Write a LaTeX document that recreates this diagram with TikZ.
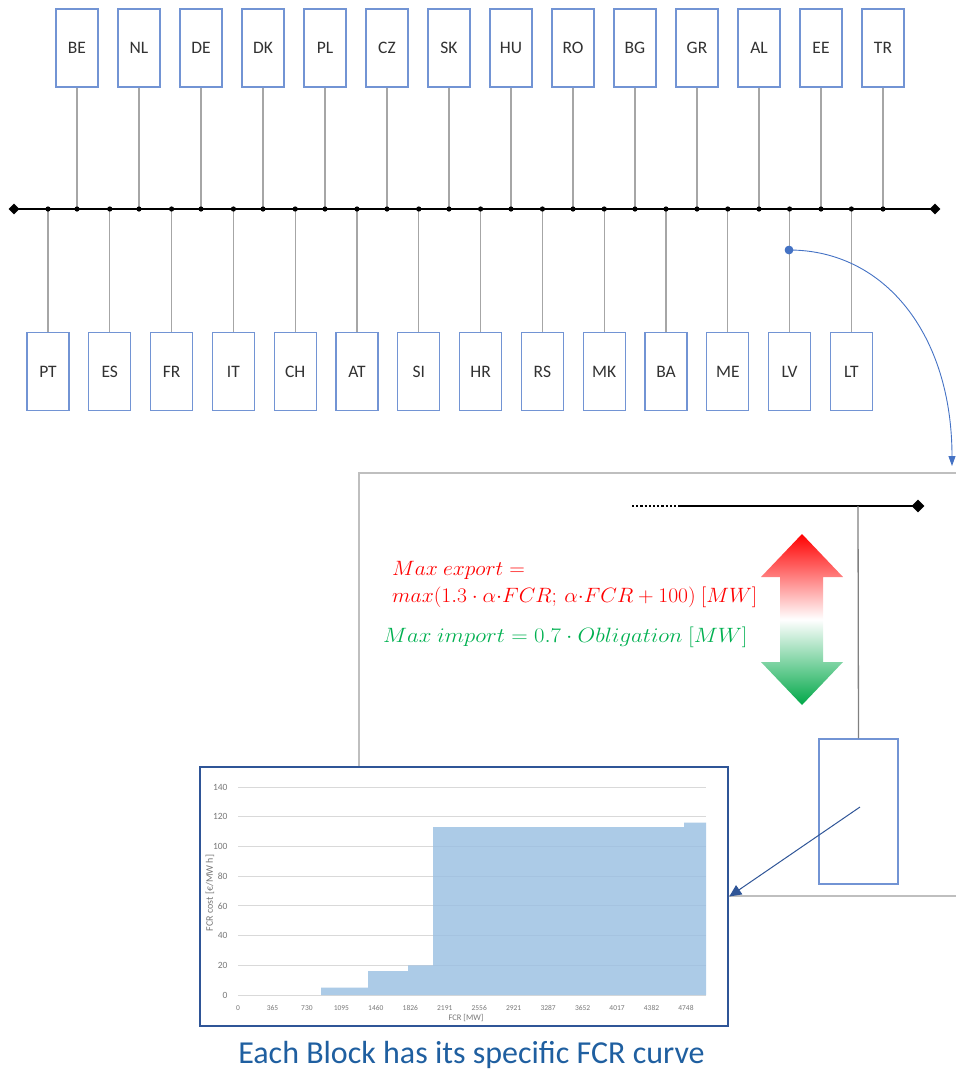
\documentclass[tikz,border=0pt]{standalone}
\usepackage{fontspec}
\setmainfont{Carlito}
\usetikzlibrary{arrows.meta,shapes.geometric}

\definecolor{boxblue}{RGB}{114,148,212}
\definecolor{linkgray}{RGB}{166,166,166}
\definecolor{framegray}{RGB}{191,191,191}
\definecolor{arcblue}{RGB}{68,114,196}
\definecolor{darkblue}{RGB}{47,85,151}
\definecolor{capblue}{RGB}{31,95,160}
\definecolor{exportred}{RGB}{255,0,0}
\definecolor{importgreen}{RGB}{0,176,80}
\definecolor{arrowgreen}{RGB}{0,168,72}
\definecolor{areablue}{RGB}{152,190,226}
\definecolor{gridgray}{RGB}{217,217,217}
\definecolor{ticklabel}{RGB}{120,120,120}
\definecolor{labeltext}{RGB}{50,50,50}

\tikzset{
  cbox/.style={draw=boxblue, line width=1.3pt, fill=white, minimum width=42pt,
    minimum height=78pt, inner sep=0pt, text=labeltext,
    font=\fontsize{17.5}{20}\selectfont},
  link/.style={draw=linkgray, line width=1.3pt},
  busline/.style={draw=black, line width=2.2pt},
  busdot/.style={fill=black},
  endmark/.style={diamond, fill=black, inner sep=0pt, minimum size=11pt},
  ytick/.style={anchor=east, text=ticklabel, font=\fontsize{9.5}{11}\selectfont},
  xtick/.style={anchor=center, text=ticklabel, font=\fontsize{7.5}{9}\selectfont},
  formula/.style={anchor=base west, inner sep=0pt, font=\fontsize{22}{26}\selectfont},
}

\begin{document}
\begin{tikzpicture}[x=1pt,y=-1pt]
\useasboundingbox (0,0) rectangle (956,1072);

% ---- main busbar ----
\node[endmark] (busL) at (14,209) {};
\node[endmark] (busR) at (935,209) {};
\draw[busline] (busL.center) -- (busR.center);

% ---- upper row of blocks ----
\foreach \c [count=\i from 0] in {BE,NL,DE,DK,PL,CZ,SK,HU,RO,BG,GR,AL,EE,TR} {
  \pgfmathsetmacro\xx{77+62*\i}
  \node[cbox] (\c) at (\xx,48) {\c};
  \coordinate (t\c) at (\xx,209);
  \draw[link] (\c.south) -- (t\c);
  \fill[busdot] (t\c) circle (2.6pt);
}

% ---- lower row of blocks ----
\foreach \c [count=\i from 0] in {PT,ES,FR,IT,CH,AT,SI,HR,RS,MK,BA,ME,LV,LT} {
  \pgfmathsetmacro\xx{48+61.8*\i}
  \node[cbox] (\c) at (\xx,371.5) {\c};
  \coordinate (b\c) at (\xx,209);
  \draw[link] (b\c) -- (\c.north);
  \fill[busdot] (b\c) circle (2.6pt);
}

% ---- detail frame ----
\draw[framegray, line width=1.2pt] (956,473) -- (359,473) -- (359,896) -- (956,896);

% ---- pointer from LV to the detail ----
\node[circle, fill=arcblue, inner sep=0pt, minimum size=8.5pt] (lvdot) at (789,250) {};
\coordinate (detailin) at (952,466);
\draw[arcblue, line width=0.9pt, -{Triangle[length=10pt,width=7pt]}]
  (lvdot.center) .. controls (885,250) and (952,335) .. (detailin);
\node[circle, fill=arcblue, inner sep=0pt, minimum size=8.5pt] at (lvdot) {};

% ---- detail: bus end and single block ----
\node[endmark, minimum size=13pt] (dbusR) at (918,506) {};
\coordinate (dbusM) at (678,506);
\coordinate (dbusL) at (632,506);
\draw[black, line width=2.2pt, dotted] (dbusL) -- (dbusM);
\draw[busline] (dbusM) -- (dbusR.center);
\coordinate (dtap) at (858,506);
\node[draw=boxblue, line width=1.3pt, minimum width=79pt, minimum height=145pt, inner sep=0pt]
  (block) at (858.5,811.5) {};
\draw[draw=gray, line width=1.3pt] (dtap) -- (block.north);

% ---- export / import arrow ----
\shade[top color=exportred, bottom color=arrowgreen, middle color=white]
  (802,534) -- (843,577) -- (823,577) -- (823,662) -- (843,662) -- (802,705)
  -- (761,662) -- (780,662) -- (780,577) -- (761,577) -- cycle;

% ---- limits ----
\node[formula, text=exportred] (exp1) at (392,575)
  {\scalebox{1.04}[1]{$Max\ export =$}};
\node[formula, text=exportred] (exp2) at (392,602)
  {\scalebox{1.04}[1]{$max(1.3\cdot\alpha{\cdot}FCR;\,\alpha{\cdot}FCR+100)\ [MW]$}};
\node[formula, text=importgreen] (imp) at (383,642)
  {\scalebox{1.1}[1]{$Max\ import=0.7\cdot Obligation\ [MW]$}};

% ---- FCR cost curve ----
\node[draw=darkblue, line width=2.6pt, fill=white, minimum width=528pt,
  minimum height=259pt, inner sep=0pt] (chart) at (464,896.5) {};
\foreach \v in {0,20,...,140} {
  \pgfmathsetmacro\yy{995-1.4857*\v}
  \draw[gridgray, line width=0.8pt] (238,\yy) -- (706,\yy);
  \node[ytick] at (231,\yy) {\v};
}
\fill[areablue, fill opacity=0.8]
  (321,995) -- (321,987.6) -- (368,987.6) -- (368,971.2) -- (408,971.2)
  -- (408,965.3) -- (433,965.3) -- (433,827.1) -- (684,827.1) -- (684,822.6)
  -- (706,822.6) -- (706,995) -- cycle;
\foreach \t [count=\i from 0] in {0,365,730,1095,1460,1826,2191,2556,2921,3287,3652,4017,4382,4748} {
  \node[xtick] at (238+34.46*\i,1008) {\t};
}
\node[xtick, font=\fontsize{8.5}{10}\selectfont] at (466,1018) {FCR [MW]};
\node[ytick, anchor=center, rotate=90, font=\fontsize{10}{12}\selectfont] at (210,893)
  {FCR cost [€/MW h]};

\coordinate (blockin) at (860,807);
\draw[darkblue, line width=1pt, -{Triangle[length=12pt,width=11pt]}] (blockin) -- (chart.east);

% ---- caption ----
\node[anchor=base, inner sep=0pt, text=capblue, font=\fontsize{32}{36}\selectfont]
  (caption) at (471.5,1063) {Each Block has its specific FCR curve};
\end{tikzpicture}
\end{document}
